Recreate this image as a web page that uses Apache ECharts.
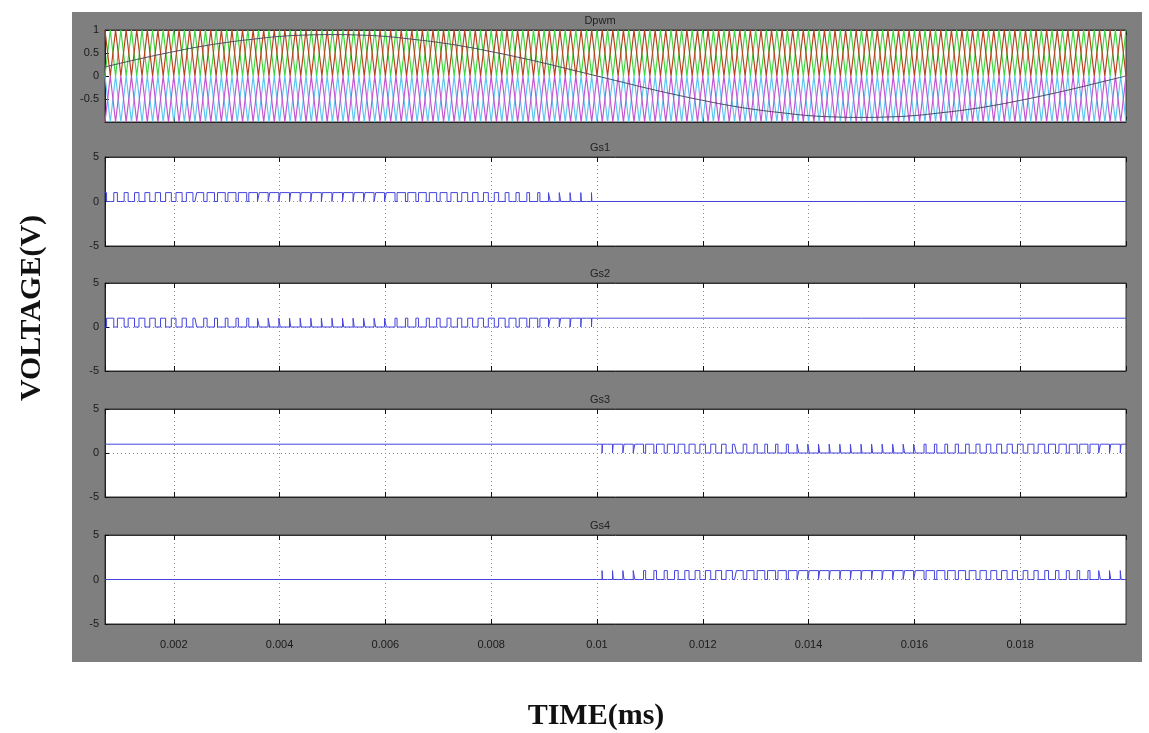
<!DOCTYPE html>
<html>
<head>
    <title>Dpwm / Gs1-Gs4</title>
    <script src="https://cdn.jsdelivr.net/npm/echarts@6.0.0/dist/echarts.min.js"></script>
</head>
<body style="margin:0; background:#fff;">
    <div id="chart" style="width: 1149px; height: 733px;"></div>
    <script>
        // values
        var panelTitles = ["Dpwm", "Gs1", "Gs2", "Gs3", "Gs4"];
        var tMin = 0.0007, tMax = 0.02, tHalf = 0.01;

        // carrier vertices, one every 0.0001 s from 0.0007 to 0.0200
        var carrierStart = 0.0007, carrierStep = 0.0001;
        var greenCarrier = [
            0,1,0,1,0,1,0,1,0,1,0,1,0,1,0,1,0,1,0,1,
            0,1,0,1,0,1,0,1,0,1,0,1,0,1,0,1,0,1,0,1,
            0,1,0,1,0,1,0,1,0,1,0,1,0,1,0,1,0,1,0,1,
            0,1,0,1,0,1,0,1,0,1,0,1,0,1,0,1,0,1,0,1,
            0,1,0,1,0,1,0,1,0,1,0,1,0,1,0,1,0,1,0,1,
            0,1,0,1,0,1,0,1,0,1,0,1,0,1,0,1,0,1,0,1,
            0,1,0,1,0,1,0,1,0,1,0,1,0,1,0,1,0,1,0,1,
            0,1,0,1,0,1,0,1,0,1,0,1,0,1,0,1,0,1,0,1,
            0,1,0,1,0,1,0,1,0,1,0,1,0,1,0,1,0,1,0,1,
            0,1,0,1,0,1,0,1,0,1,0,1,0,1
        ];
        var redCarrier = [
            1,0,1,0,1,0,1,0,1,0,1,0,1,0,1,0,1,0,1,0,
            1,0,1,0,1,0,1,0,1,0,1,0,1,0,1,0,1,0,1,0,
            1,0,1,0,1,0,1,0,1,0,1,0,1,0,1,0,1,0,1,0,
            1,0,1,0,1,0,1,0,1,0,1,0,1,0,1,0,1,0,1,0,
            1,0,1,0,1,0,1,0,1,0,1,0,1,0,1,0,1,0,1,0,
            1,0,1,0,1,0,1,0,1,0,1,0,1,0,1,0,1,0,1,0,
            1,0,1,0,1,0,1,0,1,0,1,0,1,0,1,0,1,0,1,0,
            1,0,1,0,1,0,1,0,1,0,1,0,1,0,1,0,1,0,1,0,
            1,0,1,0,1,0,1,0,1,0,1,0,1,0,1,0,1,0,1,0,
            1,0,1,0,1,0,1,0,1,0,1,0,1,0
        ];
        var cyanCarrier = [
            0,-1,0,-1,0,-1,0,-1,0,-1,0,-1,0,-1,0,-1,0,-1,0,-1,
            0,-1,0,-1,0,-1,0,-1,0,-1,0,-1,0,-1,0,-1,0,-1,0,-1,
            0,-1,0,-1,0,-1,0,-1,0,-1,0,-1,0,-1,0,-1,0,-1,0,-1,
            0,-1,0,-1,0,-1,0,-1,0,-1,0,-1,0,-1,0,-1,0,-1,0,-1,
            0,-1,0,-1,0,-1,0,-1,0,-1,0,-1,0,-1,0,-1,0,-1,0,-1,
            0,-1,0,-1,0,-1,0,-1,0,-1,0,-1,0,-1,0,-1,0,-1,0,-1,
            0,-1,0,-1,0,-1,0,-1,0,-1,0,-1,0,-1,0,-1,0,-1,0,-1,
            0,-1,0,-1,0,-1,0,-1,0,-1,0,-1,0,-1,0,-1,0,-1,0,-1,
            0,-1,0,-1,0,-1,0,-1,0,-1,0,-1,0,-1,0,-1,0,-1,0,-1,
            0,-1,0,-1,0,-1,0,-1,0,-1,0,-1,0,-1
        ];
        var magentaCarrier = [
            -1,0,-1,0,-1,0,-1,0,-1,0,-1,0,-1,0,-1,0,-1,0,-1,0,
            -1,0,-1,0,-1,0,-1,0,-1,0,-1,0,-1,0,-1,0,-1,0,-1,0,
            -1,0,-1,0,-1,0,-1,0,-1,0,-1,0,-1,0,-1,0,-1,0,-1,0,
            -1,0,-1,0,-1,0,-1,0,-1,0,-1,0,-1,0,-1,0,-1,0,-1,0,
            -1,0,-1,0,-1,0,-1,0,-1,0,-1,0,-1,0,-1,0,-1,0,-1,0,
            -1,0,-1,0,-1,0,-1,0,-1,0,-1,0,-1,0,-1,0,-1,0,-1,0,
            -1,0,-1,0,-1,0,-1,0,-1,0,-1,0,-1,0,-1,0,-1,0,-1,0,
            -1,0,-1,0,-1,0,-1,0,-1,0,-1,0,-1,0,-1,0,-1,0,-1,0,
            -1,0,-1,0,-1,0,-1,0,-1,0,-1,0,-1,0,-1,0,-1,0,-1,0,
            -1,0,-1,0,-1,0,-1,0,-1,0,-1,0,-1,0
        ];

        // reference sine, sampled every 0.0005 s from 0.0005
        var sineStart = 0.0005, sineStep = 0.0005;
        var sineRef = [
            0.14, 0.28, 0.41, 0.53, 0.64, 0.73, 0.80, 0.86, 0.89, 0.90,
            0.89, 0.86, 0.80, 0.73, 0.64, 0.53, 0.41, 0.28, 0.14, 0.00,
            -0.14, -0.28, -0.41, -0.53, -0.64, -0.73, -0.80, -0.86, -0.89, -0.90,
            -0.89, -0.86, -0.80, -0.73, -0.64, -0.53, -0.41, -0.28, -0.14, 0.00
        ];

        // gate pulses: fraction of each 0.0002 s period that is high
        var pwmPeriod = 0.0002;
        var gs1Duty = [0.30,0.34,0.38,0.42,0.46,0.50,0.54,0.58,0.62,0.66,
                       0.70,0.73,0.76,0.79,0.82,0.84,0.86,0.88,0.89,0.90,
                       0.90,0.90,0.90,0.89,0.88,0.86,0.84,0.82,0.79,0.76,
                       0.73,0.69,0.65,0.61,0.56,0.51,0.46,0.41,0.36,0.31,
                       0.26,0.21,0.17,0.13,0.09,0.06,0.04];
        var gs2Duty = [0.70,0.66,0.62,0.58,0.54,0.50,0.46,0.42,0.38,0.34,
                       0.30,0.27,0.24,0.21,0.18,0.16,0.14,0.12,0.11,0.10,
                       0.10,0.10,0.10,0.11,0.12,0.14,0.16,0.18,0.21,0.24,
                       0.27,0.31,0.35,0.39,0.44,0.49,0.54,0.59,0.64,0.69,
                       0.74,0.79,0.83,0.87,0.91,0.94,0.96];
        var gs3Duty = [0.96,0.93,0.89,0.85,0.80,0.75,0.70,0.65,0.60,0.55,
                       0.50,0.45,0.40,0.36,0.32,0.28,0.24,0.21,0.18,0.15,
                       0.13,0.11,0.10,0.09,0.09,0.09,0.10,0.11,0.13,0.15,
                       0.18,0.21,0.24,0.28,0.32,0.36,0.40,0.44,0.48,0.52,
                       0.56,0.60,0.64,0.68,0.72,0.76,0.80,0.84,0.88,0.92];
        var gs4Duty = [0.04,0.07,0.11,0.15,0.20,0.25,0.30,0.35,0.40,0.45,
                       0.50,0.55,0.60,0.64,0.68,0.72,0.76,0.79,0.82,0.85,
                       0.87,0.89,0.90,0.91,0.91,0.91,0.90,0.89,0.87,0.85,
                       0.82,0.79,0.76,0.72,0.68,0.64,0.60,0.56,0.52,0.48,
                       0.44,0.40,0.36,0.32,0.28,0.24,0.20,0.16,0.12,0.08];
        // constant level of each gate in the half where it does not switch
        var gs1Idle = 0, gs2Idle = 1, gs3Idle = 1, gs4Idle = 0;

        function samples(start, step, values) {
            return values.map(function (v, i) { return [start + i * step, v]; });
        }

        // high part centred in the period (hiCentred) or low notch centred
        function pwm(start, duty, hiCentred) {
            var pts = [];
            duty.forEach(function (d, k) {
                var t0 = start + k * pwmPeriod, t1 = t0 + pwmPeriod;
                var w = hiCentred ? d : 1 - d;
                var a = t0 + (1 - w) * pwmPeriod / 2, b = t0 + (1 + w) * pwmPeriod / 2;
                var inner = hiCentred ? 1 : 0, outer = hiCentred ? 0 : 1;
                pts.push([t0, outer], [a, outer], [a, inner], [b, inner], [b, outer], [t1, outer]);
            });
            return pts;
        }

        var gs1 = pwm(0.0006, gs1Duty, true).concat([[tHalf, gs1Idle], [tMax, gs1Idle]]);
        var gs2 = pwm(0.0006, gs2Duty, false).concat([[tHalf, gs2Idle], [tMax, gs2Idle]]);
        var gs3 = [[tMin, gs3Idle], [tHalf, gs3Idle]].concat(pwm(tHalf, gs3Duty, false));
        var gs4 = [[tMin, gs4Idle], [tHalf, gs4Idle]].concat(pwm(tHalf, gs4Duty, true));

        var chart = echarts.init(document.querySelector("#chart"));

        var gridTops = [30, 157, 283, 409, 535];
        var gridHeights = [92, 89, 88, 88, 89];
        var font = "Liberation Sans";

        var grids = [], xAxes = [], topAxes = [], yAxes = [], titles = [];
        gridTops.forEach(function (top, i) {
            grids.push({
                left: 105, right: 23, top: top, height: gridHeights[i],
                show: true, backgroundColor: "#fff", borderColor: "#333", borderWidth: 1
            });
            xAxes.push({
                type: "value", gridIndex: i, min: tMin, max: tMax, splitNumber: 10,
                axisLine: { show: true, onZero: false, lineStyle: { color: "#222" } },
                axisTick: { show: true, inside: true, length: 5, lineStyle: { color: "#111" } },
                axisLabel: {
                    show: i === 4, showMinLabel: false, showMaxLabel: false,
                    color: "#1a1a1a", fontFamily: font, fontSize: 11, margin: 11,
                    formatter: function (v) { return String(Number(v.toFixed(4))); }
                },
                splitLine: {
                    show: i > 0, showMinLine: false, showMaxLine: false,
                    lineStyle: { color: "#8a8a8a", type: [1, 3] }
                }
            });
            topAxes.push({
                type: "value", gridIndex: i, position: "top", min: tMin, max: tMax, splitNumber: 10,
                axisLine: { show: true, onZero: false, lineStyle: { color: "#333" } },
                axisTick: { show: true, inside: true, length: 5, lineStyle: { color: "#111" } },
                axisLabel: { show: false },
                splitLine: { show: false }
            });
            var isTop = i === 0;
            yAxes.push({
                type: "value", gridIndex: i,
                min: isTop ? -1 : -5, max: isTop ? 1 : 5, interval: isTop ? 0.5 : 5,
                axisLine: { show: true, onZero: false, lineStyle: { color: "#222" } },
                axisTick: { show: true, inside: true, length: 4, lineStyle: { color: "#111" } },
                axisLabel: {
                    showMinLabel: !isTop, color: "#1a1a1a", fontFamily: font, fontSize: 11, margin: 6
                },
                splitLine: {
                    show: !isTop, showMinLine: false, showMaxLine: false,
                    lineStyle: { color: "#8a8a8a", type: [1, 3] }
                }
            });
            titles.push({
                type: "text", x: 600, y: top - 9,
                style: {
                    text: panelTitles[i], fill: "#222", font: "11px " + font,
                    textAlign: "center", textVerticalAlign: "middle"
                }
            });
        });

        function line(name, data, grid, color, width) {
            return {
                name: name, type: "line", data: data, xAxisIndex: grid, yAxisIndex: grid,
                symbol: "none", lineStyle: { color: color, width: width || 1 }, z: 3
            };
        }

        var option = {
            animation: false,
            backgroundColor: "#fff",
            grid: grids,
            xAxis: xAxes.concat(topAxes),
            yAxis: yAxes,
            graphic: [
                {
                    type: "rect", z: -10, silent: true,
                    shape: { x: 72, y: 12, width: 1070, height: 650 },
                    style: { fill: "#7f7f7f" }
                },
                {
                    type: "text", x: 32, y: 308, rotation: Math.PI / 2,
                    style: {
                        text: "VOLTAGE(V)", fill: "#111", font: "bold 30px Liberation Serif",
                        textAlign: "center", textVerticalAlign: "middle"
                    }
                },
                {
                    type: "text", x: 596, y: 716,
                    style: {
                        text: "TIME(ms)", fill: "#111", font: "bold 30px Liberation Serif",
                        textAlign: "center", textVerticalAlign: "middle"
                    }
                }
            ].concat(titles),
            series: [
                line("green", samples(carrierStart, carrierStep, greenCarrier), 0, "#3fd83f", 1.2),
                line("red", samples(carrierStart, carrierStep, redCarrier), 0, "#b8421e", 1.2),
                line("cyan", samples(carrierStart, carrierStep, cyanCarrier), 0, "#5cc6f2", 1.2),
                line("magenta", samples(carrierStart, carrierStep, magentaCarrier), 0, "#c455d2", 1.2),
                Object.assign(line("ref", samples(sineStart, sineStep, sineRef), 0, "#4a4a60"), { smooth: true }),
                line("Gs1", gs1, 1, "#4444dc"),
                line("Gs2", gs2, 2, "#4444dc"),
                line("Gs3", gs3, 3, "#4444dc"),
                line("Gs4", gs4, 4, "#4444dc")
            ]
        };
        chart.setOption(option);
    </script>
</body>
</html>
